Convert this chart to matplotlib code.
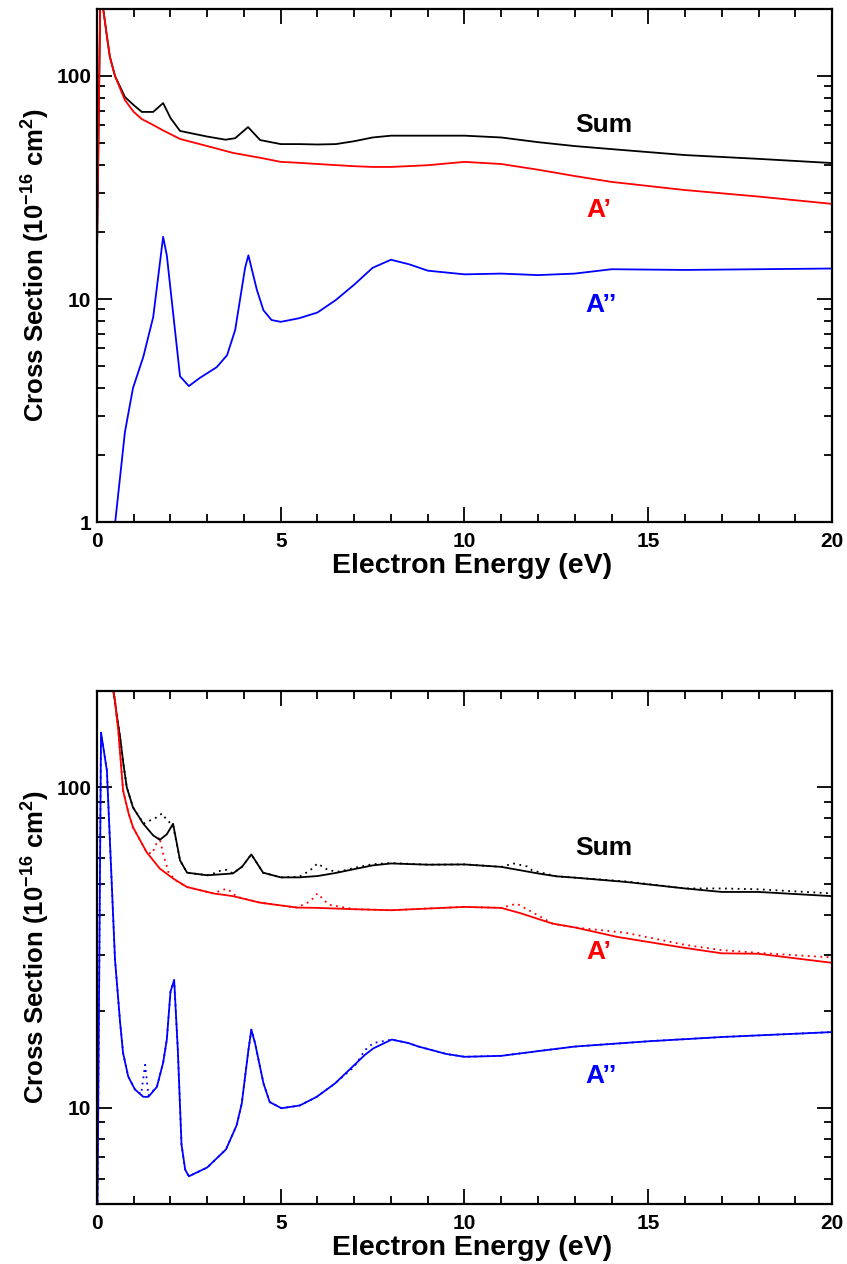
import numpy as np
import matplotlib
matplotlib.use('Agg')
import matplotlib.pyplot as plt
from matplotlib.ticker import LogLocator, NullFormatter, FixedLocator, FuncFormatter, MultipleLocator

plt.rcParams['font.family'] = ['Liberation Sans', 'DejaVu Sans']
plt.rcParams['font.weight'] = 'bold'
plt.rcParams['mathtext.fontset'] = 'custom'
plt.rcParams['mathtext.rm'] = 'Liberation Sans:bold'
plt.rcParams['mathtext.bf'] = 'Liberation Sans:bold'
plt.rcParams['mathtext.default'] = 'rm'

# ---- top panel ----
top_e_sum = [0.0, 0.1, 0.17, 0.26, 0.35, 0.49, 0.76, 1.0, 1.22, 1.53, 1.8, 2.0, 2.26, 3.0, 3.5, 3.76,
             4.11, 4.44, 5.0, 5.5, 6.0, 6.5, 7.0, 7.5, 8.0, 9.0, 10.0, 11.0, 12.0, 13.0, 14.0, 16.0, 18.0, 20.0]
top_sum = [16, 300, 200, 155, 122, 100, 80.5, 74, 69, 69, 75.6, 64.8, 56.7, 53.5, 51.8, 52.6,
           59, 51.6, 49.5, 49.5, 49.3, 49.5, 51, 53, 54, 54, 54, 53, 50.5, 48.5, 47, 44.2, 42.5, 40.7]

top_e_ap = [0.0, 0.1, 0.17, 0.26, 0.35, 0.49, 0.76, 1.0, 1.22, 1.53, 1.8, 2.26, 3.0, 3.7, 4.5, 5.0,
            5.5, 6.0, 7.0, 7.5, 8.0, 9.0, 10.0, 11.0, 12.0, 13.0, 14.0, 16.0, 18.0, 20.0]
top_ap = [16, 300, 200, 155, 122, 100, 78, 69, 64.1, 60.3, 57, 52.2, 48.5, 45.2, 42.8, 41.2,
          40.8, 40.3, 39.4, 39.1, 39.1, 39.8, 41.2, 40.3, 38, 35.6, 33.5, 30.8, 28.8, 26.7]

top_e_app = [0.45, 0.76, 0.98, 1.26, 1.53, 1.8, 1.9, 2.26, 2.5, 2.8, 3.26, 3.54, 3.76, 4.03, 4.12,
             4.35, 4.53, 4.75, 5.0, 5.5, 6.0, 6.5, 7.0, 7.5, 8.0, 8.5, 9.0, 10.0, 11.0, 12.0, 13.0,
             14.0, 16.0, 18.0, 20.0]
top_app = [0.85, 2.53, 3.99, 5.5, 8.3, 19.0, 15.7, 4.5, 4.07, 4.43, 4.95, 5.6, 7.26, 13.8, 15.7,
           11, 8.9, 8.05, 7.9, 8.2, 8.7, 9.9, 11.6, 13.8, 15.0, 14.3, 13.4, 12.9, 13.0, 12.8, 13.0,
           13.6, 13.5, 13.6, 13.7]

# ---- bottom panel (solid) ----
bot_e_sum = [0.35, 0.45, 0.535, 0.63, 0.72, 0.81, 0.98, 1.26, 1.53, 1.71, 1.9, 2.07, 2.26, 2.45, 3.0,
             3.7, 3.95, 4.2, 4.52, 5.0, 5.5, 6.0, 6.5, 7.0, 7.5, 8.0, 9.0, 10.0, 11.0, 12.0, 12.5, 13.0,
             14.4, 16.0, 17.0, 18.0, 20.0]
bot_sum = [290, 200, 169, 143, 118, 100, 86.5, 76.9, 70.7, 68.5, 71.3, 76.9, 59.1, 54.1, 53.1,
           53.8, 56.5, 61.7, 54.1, 52.3, 52.3, 52.8, 54, 55.5, 57, 57.8, 57.3, 57.4, 56.4, 53.8, 52.7, 52.2,
           50.6, 48.3, 47.1, 47.1, 45.7]

bot_e_ap = [0.34, 0.42, 0.49, 0.58, 0.71, 0.86, 0.98, 1.35, 1.71, 2.07, 2.45, 3.17, 3.7, 4.44, 5.44,
            6.0, 7.0, 8.0, 9.0, 10.0, 11.0, 11.5, 12.4, 13.0, 14.15, 16.0, 17.0, 18.0, 20.0]
bot_ap = [290, 205, 186, 150, 97.7, 82.8, 75, 62.7, 55.7, 51.9, 48.8, 46.6, 45.7, 43.6, 42.1,
          42, 41.6, 41.3, 41.8, 42.3, 42, 40.5, 37.5, 36.5, 34.1, 31.5, 30.3, 30.2, 28.3]

bot_e_app = [0.0, 0.11, 0.27, 0.49, 0.63, 0.71, 0.85, 1.03, 1.26, 1.4, 1.63, 1.8, 1.9, 2.0, 2.1, 2.2,
             2.3, 2.4, 2.5, 3.0, 3.51, 3.8, 3.94, 4.12, 4.2, 4.3, 4.53, 4.7, 5.02, 5.52, 5.98, 6.48,
             7.29, 7.52, 8.02, 8.47, 8.75, 9.5, 10.0, 11.0, 12.0, 13.0, 15.0, 17.0, 20.0]
bot_app = [3.0, 148, 112.7, 29, 18.4, 14.8, 12.5, 11.4, 10.8, 10.8, 11.6, 13.8, 16.3, 23, 25, 15.1,
           7.66, 6.4, 6.1, 6.5, 7.4, 8.8, 10.3, 15.1, 17.5, 15.9, 11.9, 10.4, 9.95, 10.15, 10.8, 11.9,
           14.6, 15.3, 16.3, 15.9, 15.5, 14.7, 14.4, 14.5, 15.0, 15.5, 16.1, 16.6, 17.2]

# ---- bottom panel (dotted) ----
dot_e_sum = [0.35, 0.45, 0.535, 0.63, 0.72, 0.81, 0.98, 1.27, 1.62, 1.77, 1.9, 2.07, 2.26, 2.45, 3.0,
             3.17, 3.35, 3.53, 3.7, 3.95, 4.2, 4.52, 5.0, 5.5, 5.8, 6.0, 6.3, 6.6, 7.0, 7.5, 8.0, 9.0,
             10.0, 11.0, 11.33, 11.7, 11.84, 12.5, 13.0, 14.4, 16.0, 17.0, 18.0, 20.0]
dot_sum = [290, 200, 169, 143, 118, 100, 86.5, 77, 80.5, 82.8, 79, 76, 59.1, 54.1, 53.1,
           53.8, 54.8, 55.2, 53.8, 56.5, 61.7, 54.1, 52.3, 52.5, 55, 57.8, 55, 54.5, 56, 57.5, 58, 57.3,
           57.4, 56.4, 57.8, 56.6, 55, 52.7, 52.2, 50.8, 48.3, 48.3, 48, 46.6]

dot_e_ap = [0.34, 0.42, 0.49, 0.58, 0.71, 0.86, 0.98, 1.35, 1.5, 1.6, 1.7, 1.8, 1.95, 2.2, 2.45, 3.17,
            3.35, 3.53, 3.67, 3.8, 4.44, 5.44, 5.8, 6.0, 6.3, 7.0, 8.0, 9.0, 10.0, 11.0, 11.42, 11.8,
            12.4, 13.0, 14.4, 16.0, 17.0, 18.0, 20.0]
dot_ap = [290, 205, 186, 150, 97.7, 82.8, 75, 62.7, 62, 66, 70, 62, 54, 50.5, 48.8, 46.6,
          47.5, 48.2, 47, 45.5, 43.6, 42.1, 44, 46.6, 43, 41.6, 41.3, 41.8, 42.3, 42, 43.3, 41,
          37.5, 36.5, 35.1, 32.2, 31, 30.4, 29.4]

dot_e_app = [0.0, 0.11, 0.27, 0.49, 0.63, 0.71, 0.85, 1.03, 1.2, 1.31, 1.4, 1.63, 1.8, 1.9, 2.0, 2.1,
             2.2, 2.3, 2.4, 2.5, 3.0, 3.51, 3.8, 3.94, 4.12, 4.2, 4.3, 4.53, 4.7, 5.02, 5.52, 5.98,
             6.48, 7.0, 7.29, 7.52, 7.9, 8.02, 8.47, 8.75, 9.5, 10.0, 11.0, 12.0, 13.0, 15.0, 17.0, 20.0]
dot_app = [3.0, 148, 112.7, 29, 18.4, 14.8, 12.5, 11.4, 11.0, 13.6, 10.9, 11.6, 13.8, 16.3, 23, 25,
           15.1, 7.66, 6.4, 6.1, 6.5, 7.4, 8.8, 10.3, 15.1, 17.5, 15.9, 11.9, 10.4, 9.95, 10.15, 10.8,
           11.9, 13.4, 15.1, 15.9, 16.2, 16.3, 15.9, 15.5, 14.7, 14.4, 14.5, 15.0, 15.5, 16.1, 16.6, 17.2]

ylabel = r'Cross Section (10$^{-16}$ cm$^{2}$)'
labels = ['Sum', 'A\u2019', 'A\u2019\u2019']
colors = ['black', 'red', 'blue']


def style_axes(ax, ymin, ymax, yticks):
    ax.set_xlim(0, 20)
    ax.set_yscale('log')
    ax.set_ylim(ymin, ymax)
    ax.xaxis.set_major_locator(MultipleLocator(5))
    ax.xaxis.set_minor_locator(MultipleLocator(1))
    ax.yaxis.set_major_locator(FixedLocator(yticks))
    ax.yaxis.set_major_formatter(FuncFormatter(lambda v, p: '%d' % v))
    ax.yaxis.set_minor_locator(LogLocator(base=10, subs=np.arange(2, 10)))
    ax.yaxis.set_minor_formatter(NullFormatter())
    ax.tick_params(which='both', direction='in', top=True, right=True, width=1.3)
    ax.tick_params(which='major', length=10.5)
    ax.tick_params(which='minor', length=5.5)
    ax.tick_params(axis='x', pad=7, labelsize=15)
    ax.tick_params(axis='y', pad=4, labelsize=15)
    for lab in ax.get_xticklabels() + ax.get_yticklabels():
        lab.set_fontweight('bold')
    for sp in ax.spines.values():
        sp.set_linewidth(1.6)
    ax.set_xlabel('Electron Energy (eV)', fontsize=20.5, fontweight='bold')
    ax.xaxis.set_label_coords(0.51, -0.061)
    ax.set_ylabel(ylabel, fontsize=18.5, fontweight='bold', labelpad=3)


fig = plt.figure(figsize=(8.47, 12.64), dpi=100)

ax1 = fig.add_axes([0.1145, 0.587, 0.8678, 0.406])
ax1.plot(top_e_sum, top_sum, color='black', lw=1.3)
ax1.plot(top_e_ap, top_ap, color='red', lw=1.3)
ax1.plot(top_e_app, top_app, color='blue', lw=1.3)
style_axes(ax1, 1, 200, [1, 10, 100])
ax1.text(13.8, 60.3, labels[0], color=colors[0], fontsize=19, fontweight='bold', ha='center', va='center')
ax1.text(13.65, 25.0, labels[1], color=colors[1], fontsize=19, fontweight='bold', ha='center', va='center')
ax1.text(13.7, 9.4, labels[2], color=colors[2], fontsize=19, fontweight='bold', ha='center', va='center')

ax2 = fig.add_axes([0.1145, 0.0475, 0.8678, 0.406])
dots = (0, (1, 2.5))
ax2.plot(dot_e_sum, dot_sum, color='black', lw=1.3, linestyle=dots)
ax2.plot(dot_e_ap, dot_ap, color='red', lw=1.3, linestyle=dots)
ax2.plot(dot_e_app, dot_app, color='blue', lw=1.3, linestyle=dots)
ax2.plot(bot_e_sum, bot_sum, color='black', lw=1.3)
ax2.plot(bot_e_ap, bot_ap, color='red', lw=1.3)
ax2.plot(bot_e_app, bot_app, color='blue', lw=1.3)
style_axes(ax2, 5, 200, [10, 100])
ax2.text(13.8, 64.4, labels[0], color=colors[0], fontsize=19, fontweight='bold', ha='center', va='center')
ax2.text(13.65, 30.5, labels[1], color=colors[1], fontsize=19, fontweight='bold', ha='center', va='center')
ax2.text(13.7, 12.5, labels[2], color=colors[2], fontsize=19, fontweight='bold', ha='center', va='center')

fig.savefig('out.png', dpi=100)
